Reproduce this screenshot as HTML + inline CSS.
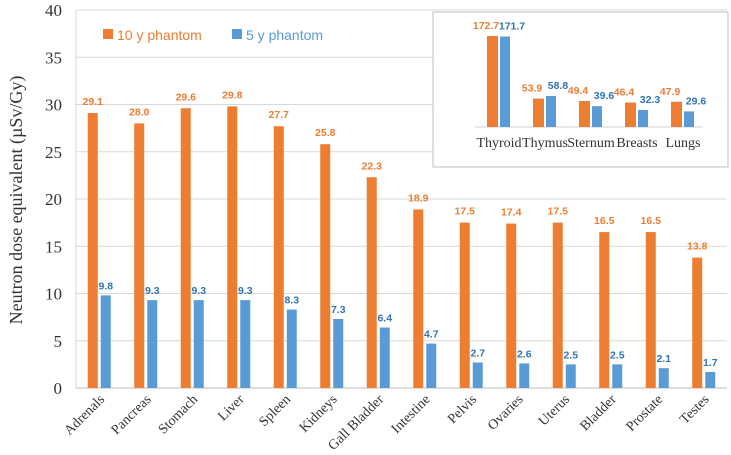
<!DOCTYPE html>
<html><head><meta charset="utf-8"><style>
body{margin:0;background:#fff}
svg{display:block;font-family:"Liberation Serif",serif}
.v{font-family:"Liberation Sans",sans-serif;font-weight:bold;font-size:10.5px}
</style></head><body>
<svg id="c" width="731" height="455"></svg>
<script>
const categories=["Adrenals","Pancreas","Stomach","Liver","Spleen","Kidneys","Gall Bladder","Intestine","Pelvis","Ovaries","Uterus","Bladder","Prostate","Testes"];
const tenY=[29.1,28.0,29.6,29.8,27.7,25.8,22.3,18.9,17.5,17.4,17.5,16.5,16.5,13.8];
const fiveY=[9.8,9.3,9.3,9.3,8.3,7.3,6.4,4.7,2.7,2.6,2.5,2.5,2.1,1.7];
const yTicks=[0,5,10,15,20,25,30,35,40];
const insetCats=["Thyroid","Thymus","Sternum","Breasts","Lungs"];
const insetTen=[172.7,53.9,49.4,46.4,47.9];
const insetFive=[171.7,58.8,39.6,32.3,29.6];
const OR="#ED7D31",BL="#5B9BD5";
const svg=document.getElementById('c');const NS="http://www.w3.org/2000/svg";
function mk(t,a,txt){const e=document.createElementNS(NS,t);for(const k in a)e.setAttribute(k,a[k]);if(txt!=null)e.textContent=txt;svg.appendChild(e);return e;}
const L=76,R=727,T=10,B=388;
const y=v=>B-(v/40)*(B-T);
const step=(R-L)/categories.length;
const xc=i=>L+step*(i+0.5);
yTicks.forEach(t=>{
 const g=mk('line',{x1:L,x2:R,y1:y(t),y2:y(t),stroke:t===0?'#bfbfbf':'#d9d9d9','stroke-width':1});
 
 const l=mk('text',{x:62,y:y(t)+6,'text-anchor':'end','font-size':17,fill:'#333'},t);
 
});
mk('line',{x1:L,x2:L,y1:T,y2:B,stroke:'#d9d9d9'});
const yt=mk('text',{x:0,y:0,transform:'translate(22,200) rotate(-90)','text-anchor':'middle','font-size':18,fill:'#333'},'Neutron dose equivalent (µSv/Gy)');

categories.forEach((c,i)=>{
 const cx=xc(i);
 const b1=mk('rect',{x:cx-11.5,y:y(tenY[i]),width:10,height:B-y(tenY[i]),fill:OR});
 
 const b2=mk('rect',{x:cx+1.5,y:y(fiveY[i]),width:10,height:B-y(fiveY[i]),fill:BL});
 
 const t1=mk('text',{x:cx-6.5,y:y(tenY[i])-8,'text-anchor':'middle',fill:OR,class:'v'},tenY[i].toFixed(1));
 
 const t2=mk('text',{x:cx+6.5,y:y(fiveY[i])-6,'text-anchor':'middle',fill:'#2E75B6',class:'v'},fiveY[i].toFixed(1));
 
 const xl=mk('text',{x:0,y:0,transform:`translate(${cx+6},${B+12}) rotate(-45)`,'text-anchor':'end','font-size':14,fill:'#333'},c);
 
});
const lg1=mk('rect',{x:103,y:29,width:10,height:10,fill:OR});
const lt1=mk('text',{x:117,y:40,'font-family':'Liberation Sans,sans-serif','font-size':14,fill:OR},'10 y phantom');
const lg2=mk('rect',{x:232,y:29,width:10,height:10,fill:BL});
const lt2=mk('text',{x:246,y:40,'font-family':'Liberation Sans,sans-serif','font-size':14,fill:BL},'5 y phantom');
const ib=mk('rect',{x:433,y:12,width:295,height:155,fill:'#fff',stroke:'#bfbfbf'});
const IB=127,iy=v=>IB-v*0.527,ix=i=>499+46*i;
mk('line',{x1:475,x2:703,y1:IB,y2:IB,stroke:'#d0d0d0'});
insetCats.forEach((c,i)=>{
 const cx=ix(i);
 const b1=mk('rect',{x:cx-12,y:iy(insetTen[i]),width:11,height:IB-iy(insetTen[i]),fill:OR});
 
 const b2=mk('rect',{x:cx+1,y:iy(insetFive[i]),width:10,height:IB-iy(insetFive[i]),fill:BL});
 
 const t1=mk('text',{x:cx-13,y:iy(insetTen[i])-7,'text-anchor':'middle',fill:OR,class:'v'},insetTen[i].toFixed(1));
 
 const t2=mk('text',{x:cx+13,y:iy(insetFive[i])-7,'text-anchor':'middle',fill:'#2E75B6',class:'v'},insetFive[i].toFixed(1));
 
 const xl=mk('text',{x:cx,y:147,'text-anchor':'middle','font-size':14,fill:'#333'},c);
 
});
</script>
</body></html>
